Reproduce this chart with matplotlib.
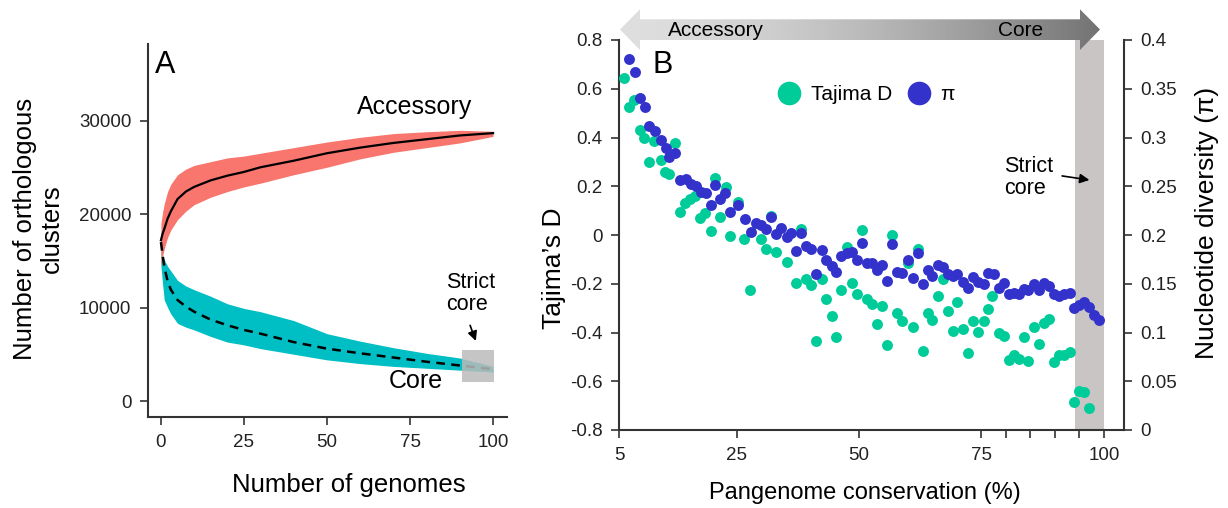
import numpy as np
import matplotlib
matplotlib.use("Agg")
import matplotlib.pyplot as plt
from matplotlib.patches import Polygon, Rectangle
from matplotlib.lines import Line2D

plt.rcParams['font.family'] = ['Liberation Sans', 'DejaVu Sans']

# ---------------- Panel A data (rarefaction envelopes, thousands) ----------------
genomes = [0, 0.5, 1, 2, 3, 5, 7.5, 10, 15, 20, 25, 30, 40, 50, 60, 70, 80, 90, 100]
acc_mean = [17.2, 17.9, 18.4, 19.5, 20.3, 21.6, 22.4, 22.9, 23.6, 24.1, 24.5, 25.0, 25.7, 26.5, 27.1, 27.6, 28.0, 28.4, 28.65]
acc_hi = [19.0, 20.2, 21.1, 22.4, 23.2, 24.2, 24.8, 25.2, 25.6, 26.0, 26.2, 26.5, 27.1, 27.7, 28.2, 28.6, 28.8, 28.95, 28.85]
acc_lo = [14.4, 15.5, 16.3, 17.5, 18.3, 19.4, 20.3, 21.0, 21.8, 22.4, 22.9, 23.3, 24.2, 25.0, 25.9, 26.6, 27.1, 27.6, 28.3]
core_mean = [17.0, 15.6, 14.4, 12.8, 11.9, 10.8, 10.1, 9.55, 8.7, 8.1, 7.6, 7.2, 6.3, 5.6, 5.1, 4.65, 4.2, 3.8, 3.4]
core_hi = [16.1, 15.6, 15.1, 14.4, 13.9, 12.9, 12.3, 11.9, 11.2, 10.4, 9.9, 9.55, 8.6, 7.2, 6.4, 5.7, 5.1, 4.6, 3.7]
core_lo = [14.4, 12.5, 10.8, 10.0, 9.3, 8.3, 7.9, 7.6, 6.9, 6.3, 6.0, 5.6, 5.0, 4.4, 4.0, 3.7, 3.5, 3.3, 3.1]
a_xticks = [0, 25, 50, 75, 100]
a_yticks = [0, 10000, 20000, 30000]

# ---------------- Panel B data ----------------
pi_x = [3.1, 4.2, 5.2, 6.3, 7.2, 8.3, 9.5, 10.5, 11.3, 12.5, 13.5, 14.6, 15.7, 16.8, 17.8, 18.8, 19.8, 20.7, 21.7, 22.7,
        23.7, 25.3, 26.8, 28.0, 29.0, 30.0, 31.0, 32.0, 33.1, 34.1, 35.2, 36.2, 37.2, 38.2, 39.2, 40.3, 41.3, 42.5, 43.3, 44.4,
        45.4, 46.4, 47.6, 48.6, 49.6, 50.6, 51.6, 52.7, 53.7, 54.7, 55.7, 56.7, 57.8, 58.8, 59.9, 61.0, 62.0, 63.0, 64.0, 65.0,
        66.1, 67.1, 68.1, 69.1, 70.1, 71.2, 72.2, 73.3, 74.3, 75.5, 76.3, 77.5, 78.5, 79.5, 80.6, 81.6, 82.6, 83.6, 84.6, 85.7,
        86.7, 87.8, 88.8, 89.9, 90.9, 91.9, 93.0, 93.9, 95.0, 96.0, 97.0, 98.0, 99.0]
pi_y = [0.381, 0.367, 0.341, 0.331, 0.312, 0.307, 0.297, 0.289, 0.280, 0.284, 0.256, 0.257, 0.252, 0.250, 0.244, 0.243, 0.231, 0.251, 0.237, 0.243,
        0.224, 0.231, 0.216, 0.203, 0.212, 0.210, 0.206, 0.218, 0.201, 0.207, 0.198, 0.202, 0.184, 0.202, 0.189, 0.186, 0.160, 0.185, 0.174, 0.168,
        0.162, 0.178, 0.182, 0.183, 0.174, 0.192, 0.171, 0.171, 0.164, 0.169, 0.153, 0.191, 0.162, 0.161, 0.174, 0.156, 0.182, 0.150, 0.164, 0.158,
        0.169, 0.167, 0.160, 0.158, 0.160, 0.152, 0.146, 0.157, 0.152, 0.150, 0.161, 0.160, 0.146, 0.151, 0.140, 0.141, 0.139, 0.145, 0.144, 0.150,
        0.144, 0.151, 0.148, 0.139, 0.137, 0.139, 0.141, 0.125, 0.128, 0.131, 0.126, 0.118, 0.113]
d_x = [2.1, 3.1, 4.1, 5.2, 6.2, 7.2, 8.2, 9.5, 10.3, 11.3, 12.4, 13.5, 14.4, 15.4, 16.5, 17.6, 18.6, 19.7, 20.7, 21.7,
       22.9, 23.7, 25.2, 26.5, 27.8, 29.9, 31.0, 32.0, 33.1, 35.2, 37.2, 38.2, 39.2, 40.3, 41.3, 42.5, 43.3, 44.4, 45.4, 46.4,
       47.6, 48.6, 49.6, 50.6, 51.6, 52.7, 53.7, 54.7, 55.7, 56.7, 57.8, 58.8, 59.9, 61.0, 62.0, 63.0, 64.0, 65.0, 66.1, 67.1,
       68.1, 69.1, 70.1, 71.2, 72.2, 73.3, 74.3, 75.5, 76.3, 77.2, 78.5, 79.5, 80.6, 81.6, 82.6, 83.6, 84.6, 85.7, 86.7, 87.8,
       88.8, 89.9, 90.9, 91.9, 93.0, 93.9, 95.0, 96.0, 97.0]
d_y = [0.643, 0.526, 0.554, 0.431, 0.397, 0.301, 0.386, 0.308, 0.260, 0.250, 0.379, 0.096, 0.133, 0.148, 0.160, 0.068, 0.089, 0.016, 0.235, 0.073,
       0.198, -0.003, 0.137, -0.018, -0.226, -0.018, -0.057, 0.078, -0.069, -0.110, -0.198, 0.023, -0.182, -0.205, -0.434, -0.182, -0.263, -0.331, -0.420, -0.226,
       -0.048, -0.198, -0.243, 0.020, -0.264, -0.283, -0.365, -0.291, -0.451, 0.000, -0.319, -0.352, -0.116, -0.376, -0.059, -0.475, -0.319, -0.349, -0.249, -0.182,
       -0.311, -0.393, -0.274, -0.386, -0.485, -0.352, -0.399, -0.352, -0.304, -0.252, -0.402, -0.416, -0.513, -0.492, -0.509, -0.420, -0.517, -0.377, -0.447, -0.361,
       -0.343, -0.523, -0.492, -0.492, -0.478, -0.685, -0.642, -0.644, -0.709]
b_xticks = [1, 25, 50, 75, 100]
b_xticklabels = ['5', '25', '50', '75', '100']
b_xminor = [80, 85, 90, 95]
d_ticks = [0.8, 0.6, 0.4, 0.2, 0, -0.2, -0.4, -0.6, -0.8]
d_ticklabels = ['0.8', '0.6', '0.4', '0.2', '0', '-0.2', '-0.4', '-0.6', '-0.8']
pi_ticks = [0.4, 0.35, 0.3, 0.25, 0.2, 0.15, 0.1, 0.05, 0]
pi_ticklabels = ['0.4', '0.35', '0.3', '0.25', '0.2', '0.15', '0.1', '0.05', '0']

SALMON = '#F8766D'
CYAN = '#00BFC4'
GREEN = '#00CC99'
BLUE = '#3333CC'
SPINE = '#333333'
TICKC = '#222222'

W, H = 1228, 508
fig = plt.figure(figsize=(W / 100, H / 100), dpi=100)

def frac(l, t, r, b):
    return [l / W, 1 - b / H, (r - l) / W, (b - t) / H]

# ================= Panel A =================
axA = fig.add_axes(frac(148, 44, 507, 417))
g = np.array(genomes)
axA.fill_between(g, np.array(core_lo) * 1000, np.array(core_hi) * 1000, color=CYAN, lw=0, zorder=2)
axA.fill_between(g, np.array(acc_lo) * 1000, np.array(acc_hi) * 1000, color=SALMON, lw=0, zorder=3)
axA.plot(g, np.array(acc_mean) * 1000, color='black', lw=1.6, zorder=5)
axA.plot(g, np.array(core_mean) * 1000, color='black', lw=1.8, ls=(0, (3.5, 2.5)), zorder=5)
axA.add_patch(Rectangle((90.6, 2060), 9.7, 3390, facecolor='#BBBBBB', alpha=0.85, lw=0, zorder=6))
axA.set_xlim(-3.9, 104.2)
axA.set_ylim(-1711, 38182)
axA.set_xticks(a_xticks)
axA.set_yticks(a_yticks)
axA.set_yticklabels([str(v) for v in a_yticks])
for s in ['top', 'right']:
    axA.spines[s].set_visible(False)
for s in ['left', 'bottom']:
    axA.spines[s].set_color(SPINE)
    axA.spines[s].set_linewidth(1.5)
axA.tick_params(direction='out', length=6, width=1.2, color=SPINE, labelsize=13.5,
                labelcolor=TICKC, pad=6)
axA.text(-1.8, 35100, 'A', fontsize=22, ha='left', va='baseline')
axA.text(76.5, 31400, 'Accessory', fontsize=18, ha='center', va='center')
axA.text(76.8, 2100, 'Core', fontsize=18, ha='center', va='center')
axA.text(86.0, 11500, 'Strict\ncore', fontsize=15.5, ha='left', va='center', linespacing=1.05)
axA.annotate('', xy=(95.1, 6150), xytext=(92.8, 8370),
             arrowprops=dict(arrowstyle='-|>', color='black', lw=1.2, mutation_scale=14))
axA.text(0.5585, -0.182, 'Number of genomes', transform=axA.transAxes, fontsize=18.5,
         ha='center', va='center')
axA.text(-0.306, 0.504, 'Number of orthologous\nclusters', transform=axA.transAxes, fontsize=18.5,
         ha='center', va='center', rotation=90, linespacing=1.15)

# ================= Panel B =================
axB = fig.add_axes(frac(619, 40, 1124, 430))
axB.axvspan(94, 100, color='#C9C5C5', lw=0, zorder=1)
axB.scatter(d_x, d_y, s=62, color=GREEN, lw=0, zorder=3, label='Tajima D')
axB.set_xlim(1.02, 104.1)
axB.set_ylim(-0.8, 0.8)
axB.set_xticks(b_xticks)
axB.set_xticklabels(b_xticklabels)
axB.set_xticks(b_xminor, minor=True)
axB.set_yticks(d_ticks)
axB.set_yticklabels(d_ticklabels)
for s in ['top', 'right']:
    axB.spines[s].set_visible(False)
for s in ['left', 'bottom']:
    axB.spines[s].set_color(SPINE)
    axB.spines[s].set_linewidth(1.5)
axB.tick_params(which='both', direction='out', length=6, width=1.2, color=SPINE,
                labelsize=13.5, labelcolor=TICKC, pad=6)

axP = axB.twinx()
axP.scatter(pi_x, pi_y, s=62, color=BLUE, lw=0, zorder=4, label='π')
axP.set_ylim(0, 0.4)
axP.set_yticks(pi_ticks)
axP.set_yticklabels(pi_ticklabels)
for s in ['top', 'left', 'bottom']:
    axP.spines[s].set_visible(False)
axP.spines['right'].set_color(SPINE)
axP.spines['right'].set_linewidth(1.5)
axP.tick_params(direction='out', length=6, width=1.2, color=SPINE, labelsize=13.5,
                labelcolor=TICKC, pad=6)

axP.text(7.9, 0.3665, 'B', fontsize=22, ha='left', va='baseline')
axP.text(79.6, 0.259, 'Strict\ncore', fontsize=15.5, ha='left', va='center', linespacing=1.05)
axP.annotate('', xy=(97.6, 0.256), xytext=(90.9, 0.261),
             arrowprops=dict(arrowstyle='-|>', color='black', lw=1.2, mutation_scale=14))

handles = [Line2D([], [], marker='o', ls='', color=GREEN, markersize=16),
           Line2D([], [], marker='o', ls='', color=BLUE, markersize=16)]
axP.legend(handles, ['Tajima D', 'π'], loc='center', bbox_to_anchor=(0.491, 0.860),
           ncol=2, frameon=False, fontsize=15, handletextpad=0.55, columnspacing=0.75,
           handlelength=1.0, borderaxespad=0)

axB.text(0.487, -0.162, 'Pangenome conservation (%)', transform=axB.transAxes, fontsize=17,
         ha='center', va='center')
axB.text(-0.128, 0.415, 'Tajima’s D', transform=axB.transAxes, fontsize=19,
         ha='center', va='center', rotation=90)
axB.text(1.164, 0.53, 'Nucleotide diversity (π)', transform=axB.transAxes, fontsize=19,
         ha='center', va='center', rotation=90)

# ================= Top gradient arrow (pixel overlay) =================
ov = fig.add_axes([0, 0, 1, 1], zorder=10)
ov.set_xlim(0, W)
ov.set_ylim(H, 0)
ov.axis('off')
ov.patch.set_alpha(0)
pts = [(620, 29.5), (640, 9.3), (640, 19.3), (1080, 19.3), (1080, 9.3), (1100, 29.5),
       (1080, 50), (1080, 40), (640, 40), (640, 50)]
poly = Polygon(pts, closed=True, facecolor='none', edgecolor='none')
ov.add_patch(poly)
t = np.linspace(0, 1, 400)
shade = 0.87 - 0.42 * t ** 1.6
grad = np.tile(shade, (2, 1))
im = ov.imshow(grad, cmap='gray', vmin=0, vmax=1, extent=(620, 1100, 50, 9.3),
               aspect='auto', interpolation='bilinear')
im.set_clip_path(poly)
ov.text(715.5, 31, 'Accessory', fontsize=15, ha='center', va='center')
ov.text(1020.5, 31, 'Core', fontsize=15, ha='center', va='center')

fig.savefig('out.png', dpi=100)
